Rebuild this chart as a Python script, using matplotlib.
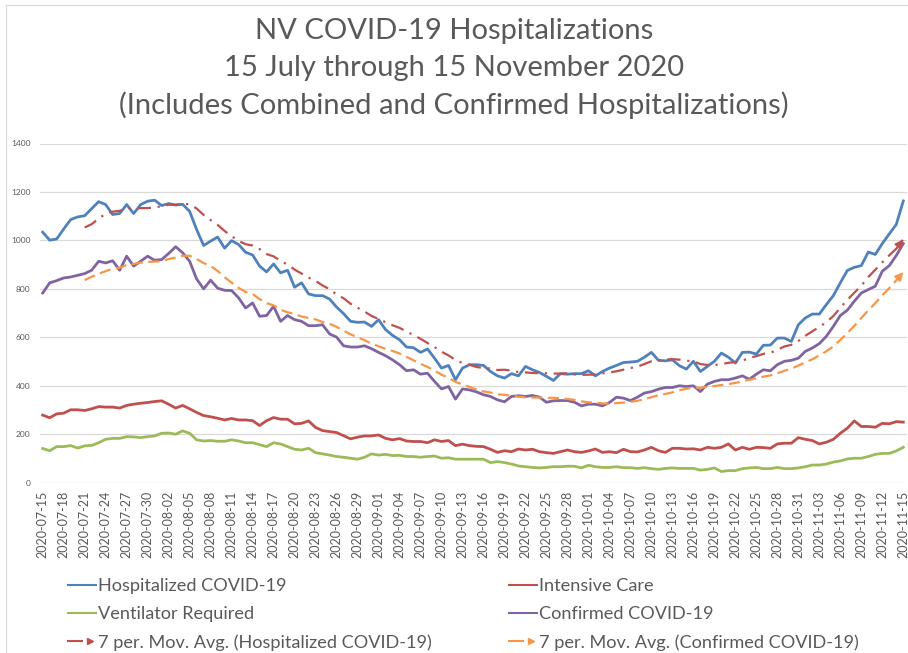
import matplotlib
matplotlib.use("Agg")
import matplotlib.pyplot as plt
from matplotlib.lines import Line2D
from matplotlib.legend_handler import HandlerBase
import numpy as np
import pandas as pd

plt.rcParams["font.family"] = ["Lato", "DejaVu Sans"]

# daily dates, 15 July - 15 November 2020
dates = pd.date_range("2020-07-15", "2020-11-15").strftime("%Y-%m-%d").tolist()

hospitalized = [
    1034, 1001, 1006, 1047, 1086, 1097, 1102, 1131, 1160, 1148,
    1107, 1111, 1148, 1111, 1148, 1162, 1166, 1144, 1152, 1146,
    1149, 1120, 1045, 979, 997, 1014, 968, 999, 983, 951,
    940, 894, 870, 903, 866, 877, 807, 825, 779, 772,
    772, 758, 725, 698, 666, 662, 663, 645, 673, 632,
    608, 590, 560, 557, 538, 552, 514, 473, 484, 425,
    473, 487, 487, 484, 459, 441, 432, 450, 441, 480,
    466, 455, 439, 422, 450, 448, 450, 450, 462, 441,
    459, 473, 484, 496, 498, 501, 518, 538, 505, 503,
    507, 483, 469, 501, 459, 480, 501, 535, 518, 494,
    538, 539, 531, 567, 568, 597, 597, 583, 652, 680,
    696, 696, 735, 772, 825, 876, 889, 896, 952, 942,
    987, 1027, 1066, 1163,
]

intensive_care = [
    279, 268, 284, 287, 301, 301, 298, 305, 314, 312,
    312, 308, 319, 324, 328, 331, 335, 338, 324, 308,
    319, 305, 290, 277, 272, 266, 259, 265, 259, 259,
    256, 236, 256, 269, 262, 262, 243, 245, 255, 228,
    215, 211, 207, 194, 181, 188, 193, 193, 197, 183,
    177, 182, 172, 170, 170, 165, 177, 170, 174, 153,
    159, 153, 150, 149, 138, 125, 132, 128, 139, 135,
    138, 128, 124, 121, 128, 135, 128, 125, 131, 139,
    125, 128, 124, 138, 128, 127, 135, 146, 132, 125,
    142, 142, 139, 140, 135, 146, 142, 146, 160, 135,
    146, 138, 146, 145, 142, 160, 163, 163, 186, 179,
    174, 160, 167, 179, 204, 225, 255, 232, 232, 229,
    245, 243, 252, 250,
]

ventilator = [
    141, 132, 149, 149, 153, 143, 152, 154, 165, 179,
    183, 183, 190, 189, 186, 190, 193, 204, 205, 200,
    214, 204, 177, 172, 174, 171, 171, 177, 172, 165,
    165, 157, 149, 165, 160, 149, 138, 135, 142, 124,
    119, 114, 108, 105, 101, 97, 105, 119, 114, 117,
    112, 113, 108, 108, 105, 108, 110, 101, 103, 97,
    97, 97, 97, 97, 83, 87, 83, 77, 69, 66,
    63, 61, 63, 66, 66, 68, 68, 61, 72, 66,
    63, 63, 66, 62, 62, 59, 62, 58, 55, 59,
    61, 59, 59, 59, 52, 55, 61, 46, 50, 50,
    58, 61, 63, 58, 58, 63, 58, 58, 61, 66,
    73, 73, 77, 85, 90, 98, 101, 101, 108, 117,
    121, 121, 131, 146,
]

confirmed = [
    783, 825, 834, 845, 849, 856, 863, 877, 914, 907,
    916, 877, 935, 894, 914, 935, 918, 921, 946, 974,
    949, 914, 841, 800, 836, 803, 794, 793, 763, 721,
    742, 687, 690, 728, 666, 690, 673, 666, 648, 648,
    652, 614, 601, 565, 560, 560, 565, 553, 538, 524,
    507, 487, 462, 466, 448, 452, 418, 387, 397, 345,
    387, 383, 375, 363, 356, 342, 334, 356, 359, 356,
    360, 353, 332, 338, 339, 339, 332, 317, 324, 324,
    317, 331, 353, 349, 339, 353, 370, 376, 386, 393,
    393, 400, 397, 400, 376, 407, 418, 425, 425, 432,
    441, 427, 448, 466, 462, 487, 501, 505, 514, 542,
    556, 574, 604, 645, 690, 712, 749, 783, 797, 811,
    873, 896, 938, 987,
]

title_lines = [
    "NV COVID-19 Hospitalizations",
    "15 July through 15 November 2020",
    "(Includes Combined and Confirmed Hospitalizations)",
]

BLUE = "#4F81BD"
RED = "#C0504D"
GREEN = "#9BBB59"
PURPLE = "#8064A2"
ORANGE = "#F79646"
GRAY = "#595959"
GRID = "#D9D9D9"

# Excel style 7 period moving average trendlines
ma_hosp = pd.Series(hospitalized).rolling(7).mean()
ma_conf = pd.Series(confirmed).rolling(7).mean()

x = np.arange(len(dates))

fig = plt.figure(figsize=(9.08, 6.53), dpi=100)
ax = fig.add_axes([40 / 908, 1 - 482.7 / 653, 867 / 908, 339.2 / 653])

l_hosp, = ax.plot(x, hospitalized, color=BLUE, lw=2.0)
l_icu, = ax.plot(x, intensive_care, color=RED, lw=2.0)
l_vent, = ax.plot(x, ventilator, color=GREEN, lw=2.0)
l_conf, = ax.plot(x, confirmed, color=PURPLE, lw=2.0)
l_mah, = ax.plot(x, ma_hosp, color=RED, lw=1.6, dashes=(6, 3, 1, 3))
l_mac, = ax.plot(x, ma_conf, color=ORANGE, lw=1.6, dashes=(5, 2.5))

# arrowheads at the end of the trendlines
for ma, col in [(ma_hosp, RED), (ma_conf, ORANGE)]:
    ax.annotate("", xy=(x[-1], ma.iloc[-1]), xytext=(x[-2], ma.iloc[-2]),
                arrowprops=dict(arrowstyle="-|>,head_length=0.5,head_width=0.25",
                                color=col, lw=1.2, shrinkA=0, shrinkB=0))

ax.set_xlim(-0.386, 123.53)
ax.set_ylim(0, 1400)
ax.set_yticks(range(0, 1401, 200))
ax.set_xticks(x[::3])
ax.set_xticklabels(dates[::3], rotation=90, fontsize=9, color=GRAY)
ax.tick_params(axis="y", length=0, pad=7, labelsize=6, labelcolor=GRAY)
ax.tick_params(axis="x", length=0, pad=6)
ax.grid(axis="y", color=GRID, lw=0.9)
ax.set_axisbelow(True)
for s in ax.spines.values():
    s.set_visible(False)

# chart border (cropped on right and bottom)
bx, by = 6 / 908, 1 - 5 / 653
fig.add_artist(Line2D([bx, bx], [0, by], color=GRID, lw=0.9, transform=fig.transFigure))
fig.add_artist(Line2D([bx, 1], [by, by], color=GRID, lw=0.9, transform=fig.transFigure))

for i, line in enumerate(title_lines):
    fig.text(0.5, 1 - (31 + 37 * i) / 653, line, ha="center", va="center",
             fontsize=21, color=GRAY)


class ArrowHandler(HandlerBase):
    def create_artists(self, legend, orig, xdescent, ydescent, width, height,
                       fontsize, trans):
        y = height / 2 - ydescent
        x0 = -xdescent
        seg = Line2D([x0, x0 + width * 0.5], [y, y], color=orig.get_color(),
                     lw=1.5, transform=trans)
        tip = Line2D([x0 + width * 0.78], [y], marker=">", ms=4, ls="none",
                     color=orig.get_color(), transform=trans)
        return [seg, tip]


class PlainHandler(HandlerBase):
    def create_artists(self, legend, orig, xdescent, ydescent, width, height,
                       fontsize, trans):
        y = height / 2 - ydescent
        seg = Line2D([-xdescent, width - xdescent], [y, y],
                     color=orig.get_color(), lw=1.5, transform=trans)
        return [seg]


handles = [l_hosp, l_vent, l_mah, l_icu, l_conf, l_mac]
labels = ["Hospitalized COVID-19", "Ventilator Required",
          "7 per. Mov. Avg. (Hospitalized COVID-19)", "Intensive Care",
          "Confirmed COVID-19", "7 per. Mov. Avg. (Confirmed COVID-19)"]
hmap = {h: PlainHandler() for h in [l_hosp, l_vent, l_icu, l_conf]}
hmap.update({l_mah: ArrowHandler(), l_mac: ArrowHandler()})
fig.legend(handles, labels, ncol=2, loc="upper left",
           bbox_to_anchor=(68 / 908, 1 - 578 / 653), frameon=False,
           fontsize=13.1, labelcolor=GRAY, handlelength=1.55, handletextpad=0.12,
           columnspacing=4.2, labelspacing=0.66, borderpad=0, borderaxespad=0,
           handler_map=hmap)

fig.savefig("out.png", dpi=100)
